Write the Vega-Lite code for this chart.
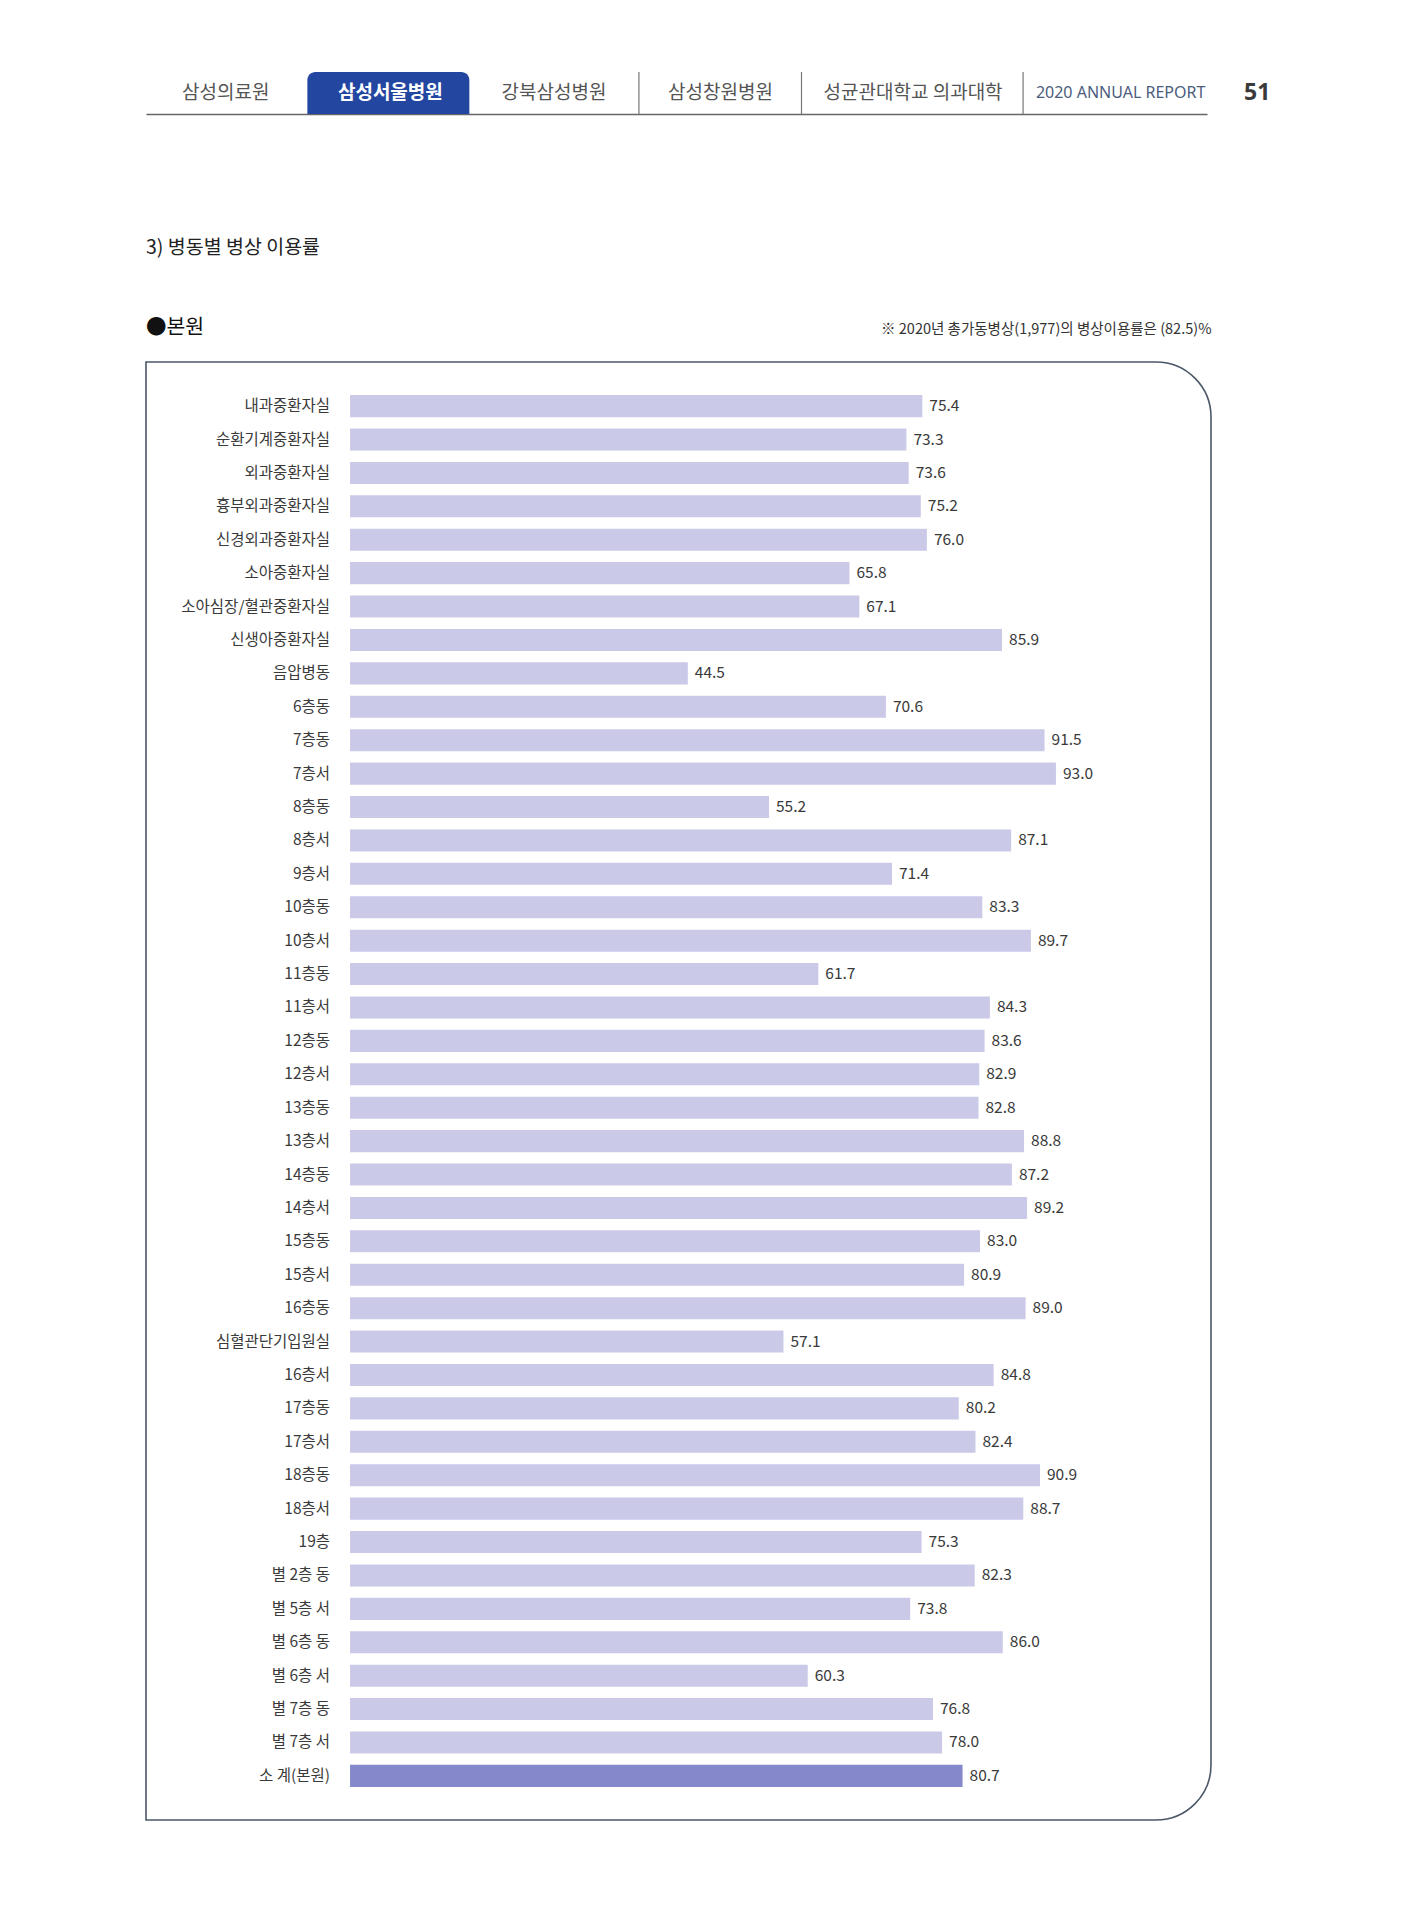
{
  "$schema": "https://vega.github.io/schema/vega-lite/v6.json",
  "background": "white",
  "padding": {"left": 145, "top": 71, "right": 10, "bottom": 10},
  "config": {"font": "Noto Sans CJK KR", "view": {"stroke": null}, "concat": {"spacing": 123}},
  "vconcat": [
    {
      "width": 1061,
      "height": 42,
      "data": {"values": [{}]},
      "layer": [
        {
          "mark": {"type": "bar", "width": 162, "xOffset": 15, "color": "#2347a0", "cornerRadiusTopLeft": 8, "cornerRadiusTopRight": 8},
          "encoding": {
            "x": {"datum": "삼성서울병원", "type": "nominal",
              "scale": {"domain": ["삼성의료원", "삼성서울병원", "강북삼성병원", "삼성창원병원", "성균관대학교 의과대학", "2020 ANNUAL REPORT", "51"], "paddingInner": 0, "paddingOuter": 0},
              "axis": {"orient": "bottom", "labels": false, "ticks": false, "title": null, "grid": false, "domain": true, "domainColor": "#666", "domainWidth": 1.5}}
          }
        },
        {"mark": {"type": "rule", "xOffset": 114, "color": "#777", "strokeWidth": 1.2}, "encoding": {"x": {"datum": "강북삼성병원", "type": "nominal"}}},
        {"mark": {"type": "rule", "xOffset": 125, "color": "#777", "strokeWidth": 1.2}, "encoding": {"x": {"datum": "삼성창원병원", "type": "nominal"}}},
        {"mark": {"type": "rule", "xOffset": 195, "color": "#777", "strokeWidth": 1.2}, "encoding": {"x": {"datum": "성균관대학교 의과대학", "type": "nominal"}}},
        {"mark": {"type": "text", "xOffset": 4, "fontSize": 19, "color": "#555"}, "encoding": {"x": {"datum": "삼성의료원", "type": "nominal"}, "text": {"value": "삼성의료원"}}},
        {"mark": {"type": "text", "xOffset": 17, "fontSize": 19, "color": "white", "fontWeight": "bold"}, "encoding": {"x": {"datum": "삼성서울병원", "type": "nominal"}, "text": {"value": "삼성서울병원"}}},
        {"mark": {"type": "text", "xOffset": 29, "fontSize": 19, "color": "#555"}, "encoding": {"x": {"datum": "강북삼성병원", "type": "nominal"}, "text": {"value": "강북삼성병원"}}},
        {"mark": {"type": "text", "xOffset": 44, "fontSize": 19, "color": "#555"}, "encoding": {"x": {"datum": "삼성창원병원", "type": "nominal"}, "text": {"value": "삼성창원병원"}}},
        {"mark": {"type": "text", "xOffset": 85, "fontSize": 19, "color": "#555"}, "encoding": {"x": {"datum": "성균관대학교 의과대학", "type": "nominal"}, "text": {"value": "성균관대학교 의과대학"}}},
        {"mark": {"type": "text", "xOffset": 141, "fontSize": 16, "letterSpacing": 0.8, "color": "#4b5d7c", "font": "Noto Sans"}, "encoding": {"x": {"datum": "2020 ANNUAL REPORT", "type": "nominal"}, "text": {"value": "2020 ANNUAL REPORT"}}},
        {"mark": {"type": "text", "xOffset": 126, "fontSize": 23, "color": "#3a3a3a", "fontWeight": "bold", "font": "Noto Sans"}, "encoding": {"x": {"datum": "51", "type": "nominal"}, "text": {"value": "51"}}}
      ]
    },
    {
      "width": 1065,
      "height": 1458,
      "title": {"text": "3) 병동별 병상 이용률", "subtitle": "●본원", "anchor": "start", "frame": "group", "fontSize": 19.5, "fontWeight": "normal", "color": "#222", "subtitleFontSize": 20.5, "subtitleColor": "#111", "subtitleFont": "Noto Sans CJK KR", "subtitlePadding": 59, "offset": -18},
      "data": {"values": [
        {"ward": "내과중환자실", "rate": 75.4},
        {"ward": "순환기계중환자실", "rate": 73.3},
        {"ward": "외과중환자실", "rate": 73.6},
        {"ward": "흉부외과중환자실", "rate": 75.2},
        {"ward": "신경외과중환자실", "rate": 76.0},
        {"ward": "소아중환자실", "rate": 65.8},
        {"ward": "소아심장/혈관중환자실", "rate": 67.1},
        {"ward": "신생아중환자실", "rate": 85.9},
        {"ward": "음압병동", "rate": 44.5},
        {"ward": "6층동", "rate": 70.6},
        {"ward": "7층동", "rate": 91.5},
        {"ward": "7층서", "rate": 93.0},
        {"ward": "8층동", "rate": 55.2},
        {"ward": "8층서", "rate": 87.1},
        {"ward": "9층서", "rate": 71.4},
        {"ward": "10층동", "rate": 83.3},
        {"ward": "10층서", "rate": 89.7},
        {"ward": "11층동", "rate": 61.7},
        {"ward": "11층서", "rate": 84.3},
        {"ward": "12층동", "rate": 83.6},
        {"ward": "12층서", "rate": 82.9},
        {"ward": "13층동", "rate": 82.8},
        {"ward": "13층서", "rate": 88.8},
        {"ward": "14층동", "rate": 87.2},
        {"ward": "14층서", "rate": 89.2},
        {"ward": "15층동", "rate": 83.0},
        {"ward": "15층서", "rate": 80.9},
        {"ward": "16층동", "rate": 89.0},
        {"ward": "심혈관단기입원실", "rate": 57.1},
        {"ward": "16층서", "rate": 84.8},
        {"ward": "17층동", "rate": 80.2},
        {"ward": "17층서", "rate": 82.4},
        {"ward": "18층동", "rate": 90.9},
        {"ward": "18층서", "rate": 88.7},
        {"ward": "19층", "rate": 75.3},
        {"ward": "별 2층 동", "rate": 82.3},
        {"ward": "별 5층 서", "rate": 73.8},
        {"ward": "별 6층 동", "rate": 86.0},
        {"ward": "별 6층 서", "rate": 60.3},
        {"ward": "별 7층 동", "rate": 76.8},
        {"ward": "별 7층 서", "rate": 78.0},
        {"ward": "소 계(본원)", "rate": 80.7}
      ]},
      "layer": [
        {
          "data": {"values": [{}]},
          "mark": {"type": "rect", "fill": "transparent", "stroke": "#4b5868", "strokeWidth": 1.6, "cornerRadiusTopRight": 55, "cornerRadiusBottomRight": 55},
          "encoding": {
            "x": {"datum": -26.88, "type": "quantitative", "scale": {"domain": [-26.88, 113.43], "nice": false, "zero": false},
              "axis": {"orient": "top", "labels": false, "ticks": false, "domain": false, "grid": false, "title": "※ 2020년 총가동병상(1,977)의 병상이용률은 (82.5)%", "titleAnchor": "end", "titleFontSize": 14.5, "titleFontWeight": "normal", "titleColor": "#333", "titlePadding": 26}},
            "x2": {"datum": 113.43}
          }
        },
        {
          "mark": {"type": "bar"},
          "encoding": {
            "y": {"field": "ward", "type": "nominal", "sort": null, "axis": null, "scale": {"paddingInner": 0.34, "paddingOuter": 0.99}},
            "x": {"field": "rate", "type": "quantitative", "scale": {"domain": [-26.88, 113.43], "nice": false, "zero": false}},
            "x2": {"datum": 0},
            "color": {"condition": {"test": "datum.ward === '소 계(본원)'", "value": "#8589cc"}, "value": "#cbc9e8"}
          }
        },
        {
          "mark": {"type": "text", "align": "left", "baseline": "middle", "dx": 7, "fontSize": 15.5, "color": "#3a3a3a"},
          "encoding": {
            "y": {"field": "ward", "type": "nominal", "sort": null},
            "x": {"field": "rate", "type": "quantitative"},
            "text": {"field": "rate", "type": "quantitative", "format": ".1f"}
          }
        },
        {
          "mark": {"type": "text", "align": "right", "baseline": "middle", "dx": -20, "fontSize": 15.5, "color": "#3a3a3a"},
          "encoding": {
            "y": {"field": "ward", "type": "nominal", "sort": null},
            "x": {"datum": 0, "type": "quantitative"},
            "text": {"field": "ward", "type": "nominal"}
          }
        }
      ]
    }
  ]
}
